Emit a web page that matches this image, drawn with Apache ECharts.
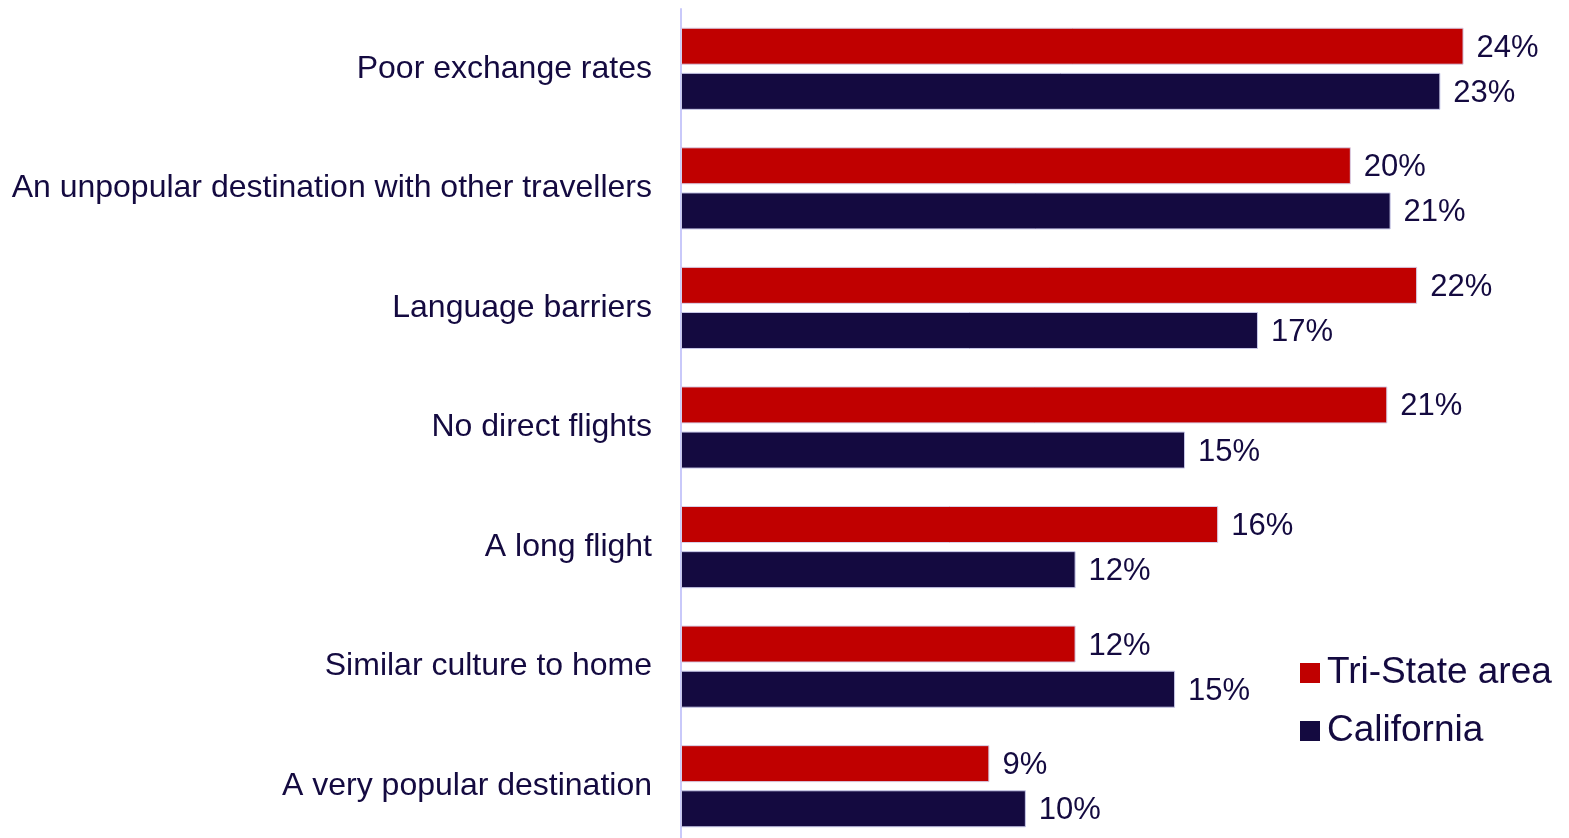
<!DOCTYPE html>
<html>
<head>
<meta charset="utf-8">
<script src="https://cdn.jsdelivr.net/npm/echarts@6/dist/echarts.min.js"></script>
<style>
html,body{margin:0;padding:0;background:#fff;}
#chart{width:1569px;height:838px;}
</style>
</head>
<body>
<div id="chart"></div>
<script>
const categories = [
  "Poor exchange rates",
  "An unpopular destination with other travellers",
  "Language barriers",
  "No direct flights",
  "A long flight",
  "Similar culture to home",
  "A very popular destination"
];
const seriesNames = ["Tri-State area", "California"];
const triState = [23.6, 20.2, 22.2, 21.3, 16.2, 11.9, 9.3];
const california = [22.9, 21.4, 17.4, 15.2, 11.9, 14.9, 10.4];

const TEXT = "#140A40";
const FONT = "'Liberation Sans', Arial, sans-serif";

const chart = echarts.init(document.getElementById('chart'));
const labelCfg = {
  show: true,
  position: 'right',
  distance: 13,
  offset: [0, 2],
  color: TEXT,
  fontFamily: FONT,
  fontSize: 31,
  formatter: p => Math.round(p.value) + '%'
};
chart.setOption({
  animation: false,
  backgroundColor: '#ffffff',
  grid: { left: 681, top: 9, width: 829, height: 837, containLabel: false, outerBoundsMode: 'none' },
  legend: {
    orient: 'vertical',
    left: 1295,
    top: 647,
    icon: 'rect',
    itemWidth: 20,
    itemHeight: 20,
    itemGap: 16,
    itemStyle: { borderWidth: 0 },
    textStyle: { color: TEXT, fontFamily: FONT, fontSize: 37, lineHeight: 42, padding: [0, 0, 0, 2] },
    data: seriesNames
  },
  xAxis: {
    type: 'value', min: 0, max: 25,
    show: false,
    splitLine: { show: false }
  },
  yAxis: {
    type: 'category',
    inverse: true,
    data: categories,
    axisLine: { show: true, lineStyle: { color: '#C9C9FA', width: 2 } },
    axisTick: { show: false },
    axisLabel: { color: TEXT, fontFamily: FONT, fontSize: 32, margin: 29, lineHeight: 36, padding: [5, 0, 0, 0] }
  },
  series: [
    {
      name: seriesNames[0], type: 'bar', data: triState,
      barWidth: 37, barGap: '22%',
      itemStyle: { color: '#C00000', borderColor: '#D8D0E8', borderWidth: 1 },
      label: labelCfg
    },
    {
      name: seriesNames[1], type: 'bar', data: california,
      barWidth: 37, barGap: '22%',
      itemStyle: { color: '#140A40', borderColor: '#C8C8E8', borderWidth: 1 },
      label: labelCfg
    }
  ]
});
</script>
</body>
</html>
